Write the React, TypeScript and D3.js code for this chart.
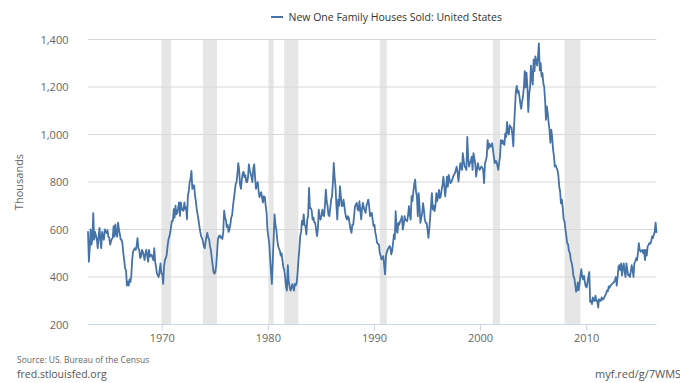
import React from 'react';
import * as d3 from 'd3';

// Monthly, seasonally adjusted annual rate, thousands. Starts Jan 1963.
const sales1960s = [
  593, 464, 521, 600, 536, 560, 669, 557, 590, 575, 560, 521,
  570, 607, 557, 521, 590, 570, 557, 600, 590, 585, 597, 570,
  566, 536, 550, 560, 565, 614, 570, 621, 580, 570, 629, 600,
  580, 557, 557, 540, 500, 471, 436, 430, 364, 380, 364, 390,
  379, 407, 471, 507, 514, 521, 514, 530, 564, 521, 514, 480,
  486, 514, 507, 490, 471, 500, 514, 490, 464, 514, 486, 493,
  493, 480, 471, 521, 464, 443, 414, 407, 400, 429, 457, 414,
];
const sales1970s = [
  414, 371, 443, 471, 479, 493, 529, 557, 570, 586, 614, 636,
  636, 686, 650, 700, 664, 671, 690, 714, 657, 714, 690, 680,
  679, 714, 686, 693, 643, 743, 760, 800, 814, 847, 771, 786,
  786, 743, 720, 686, 664, 640, 614, 590, 571, 564, 550, 530,
  521, 550, 570, 586, 565, 560, 530, 514, 480, 450, 421, 414,
  420, 450, 500, 560, 571, 575, 565, 571, 560, 590, 679, 650,
  640, 610, 620, 590, 600, 620, 650, 660, 700, 730, 760, 790,
  800, 836, 879, 850, 790, 771, 810, 836, 843, 820, 829, 800,
  800, 820, 874, 850, 836, 820, 800, 860, 874, 820, 771, 790,
  800, 760, 736, 750, 757, 730, 714, 740, 736, 700, 671, 600,
];
const sales1980s = [
  570, 540, 480, 420, 371, 470, 560, 664, 620, 600, 560, 530,
  520, 510, 490, 500, 470, 440, 430, 400, 357, 343, 450, 380,
  360, 343, 350, 370, 360, 343, 371, 365, 375, 414, 470, 514,
  571, 590, 636, 620, 664, 620, 614, 579, 640, 657, 775, 690,
  690, 680, 642, 650, 630, 628, 600, 572, 600, 684, 650, 642,
  660, 684, 660, 656, 700, 768, 720, 698, 660, 656, 690, 726,
  740, 800, 880, 820, 780, 700, 642, 726, 700, 782, 740, 698,
  700, 726, 700, 670, 650, 642, 656, 650, 620, 600, 586, 620,
  620, 660, 698, 705, 712, 684, 680, 719, 680, 642, 690, 712,
  690, 680, 670, 700, 712, 726, 700, 656, 660, 670, 640, 614,
];
const sales1990s = [
  620, 586, 570, 544, 540, 537, 502, 490, 474, 480, 488, 450,
  411, 490, 505, 515, 523, 530, 525, 495, 510, 540, 579, 560,
  677, 600, 586, 628, 620, 635, 640, 656, 600, 620, 656, 640,
  640, 635, 660, 698, 660, 642, 740, 720, 761, 790, 810, 760,
  739, 656, 753, 700, 628, 650, 670, 711, 680, 640, 628, 628,
  600, 565, 600, 650, 700, 753, 684, 700, 677, 700, 753, 720,
  740, 767, 732, 740, 767, 790, 823, 780, 739, 780, 823, 780,
  830, 810, 795, 800, 809, 823, 830, 837, 850, 865, 840, 802,
  840, 879, 860, 851, 921, 890, 865, 860, 851, 990, 900, 865,
  880, 890, 907, 851, 921, 900, 879, 823, 850, 879, 860, 851,
];
const sales2000s = [
  860, 865, 860, 851, 795, 879, 890, 907, 976, 940, 960, 949,
  950, 963, 940, 907, 879, 890, 886, 870, 851, 880, 907, 976,
  963, 975, 960, 956, 1005, 990, 1053, 1010, 1000, 1039, 1030, 1030,
  998, 950, 1040, 1110, 1184, 1205, 1175, 1185, 1160, 1130, 1108, 1140,
  1160, 1200, 1267, 1198, 1260, 1200, 1095, 1170, 1200, 1290, 1240, 1210,
  1315, 1267, 1329, 1310, 1290, 1330, 1384, 1270, 1300, 1244, 1258, 1216,
  1200, 1140, 1062, 1118, 1090, 1050, 1020, 965, 1020, 990, 937, 910,
  865, 870, 860, 851, 830, 781, 760, 710, 726, 691, 642, 635,
  600, 572, 544, 537, 509, 502, 474, 460, 440, 405, 395, 370,
  338, 345, 377, 345, 370, 405, 433, 400, 390, 405, 378, 360,
];
const sales2010s = [
  356, 379, 400, 421, 295, 300, 286, 314, 300, 300, 321, 300,
  300, 271, 307, 300, 300, 314, 305, 307, 315, 321, 330, 343,
  340, 360, 355, 364, 368, 371, 375, 379, 386, 400, 364, 400,
  443, 450, 429, 457, 407, 440, 457, 420, 400, 457, 430, 407,
  410, 400, 425, 450, 430, 400, 457, 465, 479, 471, 500, 543,
  514, 507, 510, 514, 500, 514, 471, 514, 490, 529, 535, 543,
  540, 550, 571, 564, 579, 590, 629, 586,
];

const yTicks = [200, 400, 600, 800, 1000, 1200, 1400];
const xTickYears = [1970, 1980, 1990, 2000, 2010];
const recessions: [string, string][] = [
  ['1969-12-01', '1970-11-01'],
  ['1973-11-01', '1975-03-01'],
  ['1980-01-01', '1980-07-01'],
  ['1981-07-01', '1982-11-01'],
  ['1990-07-01', '1991-03-01'],
  ['2001-03-01', '2001-11-01'],
  ['2007-12-01', '2009-06-01'],
];

const values = [...sales1960s, ...sales1970s, ...sales1980s, ...sales1990s, ...sales2000s, ...sales2010s];
const dates = values.map((_, i) => new Date(1963, i, 1));

const parse = (s: string) => {
  const [yy, mm, dd] = s.split('-').map(Number);
  return new Date(yy, mm - 1, dd);
};

export default function App() {
  const W = 680;
  const H = 383;
  const left = 88;
  const right = 656.5;
  const top = 39.5;
  const bottom = 324.5;

  const x = d3.scaleTime().domain([dates[0], dates[dates.length - 1]]).range([left, right]);
  const y = d3.scaleLinear().domain([200, 1400]).range([bottom, top]);
  const line = d3
    .line<number>()
    .x((_, i) => x(dates[i]))
    .y((d) => y(d));

  const font = "'Open Sans', sans-serif";

  return (
    <svg
      width={W}
      height={H}
      style={{ position: 'fixed', left: 0, top: 0, background: '#fff' }}
      fontFamily={font}
    >
      <rect x={0} y={0} width={W} height={H} fill="#ffffff" />
      {recessions.map(([a, b], i) => (
        <rect
          key={i}
          x={x(parse(a))}
          y={top}
          width={x(parse(b)) - x(parse(a))}
          height={bottom - top}
          fill="#e6e6e6"
        />
      ))}
      {yTicks.map((t) =>
        t === 200 ? null : (
          <line key={t} x1={left} x2={right} y1={y(t)} y2={y(t)} stroke="#d8d8d8" strokeWidth={1} />
        )
      )}
      <line x1={left} x2={right} y1={bottom} y2={bottom} stroke="#ccd6eb" strokeWidth={1} />
      {xTickYears.map((yr) => {
        const xx = x(new Date(yr, 0, 1));
        return (
          <g key={yr}>
            <line x1={xx} x2={xx} y1={bottom} y2={bottom + 6} stroke="#ccd6eb" strokeWidth={1} />
            <text x={xx} y={341.5} textAnchor="middle" fontSize={11} fill="#666666">
              {yr}
            </text>
          </g>
        );
      })}
      {yTicks.map((t) => (
        <text key={t} x={68.5} y={y(t) + 4} textAnchor="end" fontSize={11} fill="#666666">
          {d3.format(',')(t)}
        </text>
      ))}
      <text
        transform={`translate(23,182) rotate(-90)`}
        textAnchor="middle"
        fontSize={11}
        fill="#666666"
      >
        Thousands
      </text>
      <path d={line(values) || ''} fill="none" stroke="#4572a7" strokeWidth={1.8} strokeLinejoin="round" />
      <line x1={271} x2={283} y1={17} y2={17} stroke="#4572a7" strokeWidth={2} />
      <text x={288.5} y={20.5} fontSize={10.5} fill="#333333">
        New One Family Houses Sold: United States
      </text>
      <text x={17} y={362.5} fontSize={8.5} fill="#666666">
        Source: US. Bureau of the Census
      </text>
      <text x={17} y={378} fontSize={10.5} fill="#555555">
        fred.stlouisfed.org
      </text>
      <text x={595} y={378} fontSize={11} fill="#555555">
        myf.red/g/7WMS
      </text>
    </svg>
  );
}
